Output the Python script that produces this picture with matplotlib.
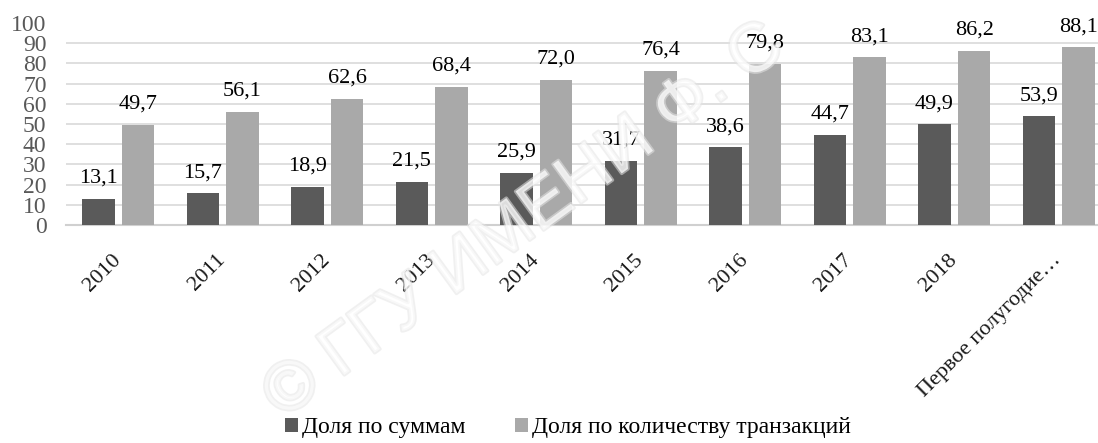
import numpy as np
from matplotlib import pyplot as plt
from matplotlib import patheffects as pe

plt.rcParams['font.family'] = ['Liberation Serif', 'DejaVu Serif']

years = ['2010', '2011', '2012', '2013', '2014', '2015', '2016', '2017', '2018',
         'Первое полугодие…']
dolya_summ = [13.1, 15.7, 18.9, 21.5, 25.9, 31.7, 38.6, 44.7, 49.9, 53.9]
dolya_kol = [49.7, 56.1, 62.6, 68.4, 72.0, 76.4, 79.8, 83.1, 86.2, 88.1]
names = ['Доля по суммам', 'Доля по количеству транзакций']

fig = plt.figure(figsize=(10.98, 4.43), dpi=100)
ax = fig.add_axes([66/1098, 0.492, (1111-66)/1098, 0.456])

x = np.arange(len(years))
w = 0.31
b1 = ax.bar(x - 0.19, dolya_summ, w, color='#5a5a5a', label=names[0], zorder=3)
b2 = ax.bar(x + 0.19, dolya_kol, w, color='#a9a9a9', label=names[1], zorder=3)

for bars, vals in [(b1, dolya_summ), (b2, dolya_kol)]:
    for r, v in zip(bars, vals):
        ax.annotate(('%.1f' % v).replace('.', ','),
                    (r.get_x() + r.get_width()/2, v), xytext=(0, 11.5),
                    textcoords='offset points', ha='center', va='baseline',
                    fontsize=16, color='black', zorder=4)

ax.set_xlim(-0.5, len(years) - 0.5)
ax.set_ylim(0, 100)
ax.set_yticks(range(0, 101, 10))
ax.grid(axis='y', color='#d9d9d9', linewidth=1.2, zorder=0)
ax.yaxis.get_gridlines()[-1].set_visible(False)
ax.set_xticks(x)
ax.set_xticklabels(years, rotation=45, ha='right', va='center',
                   rotation_mode='anchor', fontsize=16, color='#1a1a1a')
ax.tick_params(axis='x', length=0, pad=23)
ax.tick_params(axis='y', length=0, pad=14, labelsize=17, labelcolor='#595959')
for s in ['top', 'right', 'left']:
    ax.spines[s].set_visible(False)
ax.spines['bottom'].set_color('#d0d0d0')
ax.spines['bottom'].set_linewidth(1.5)

fig.legend(loc='center', bbox_to_anchor=(568/1098, 0.034), ncol=2, frameon=False,
           fontsize=17, handlelength=0.55, handleheight=0.55, handletextpad=0.17,
           columnspacing=2.1, borderpad=0)

# watermark
fig.text(0.478, 0.5, '© ГГУ ИМЕНИ Ф. С', fontsize=50, rotation=36,
         ha='center', va='center', color='white', alpha=0.55,
         family='Liberation Sans', zorder=10,
         path_effects=[pe.Stroke(linewidth=2.5, foreground='#e4e4e4'), pe.Normal()])

fig.savefig('out.png', dpi=100)
